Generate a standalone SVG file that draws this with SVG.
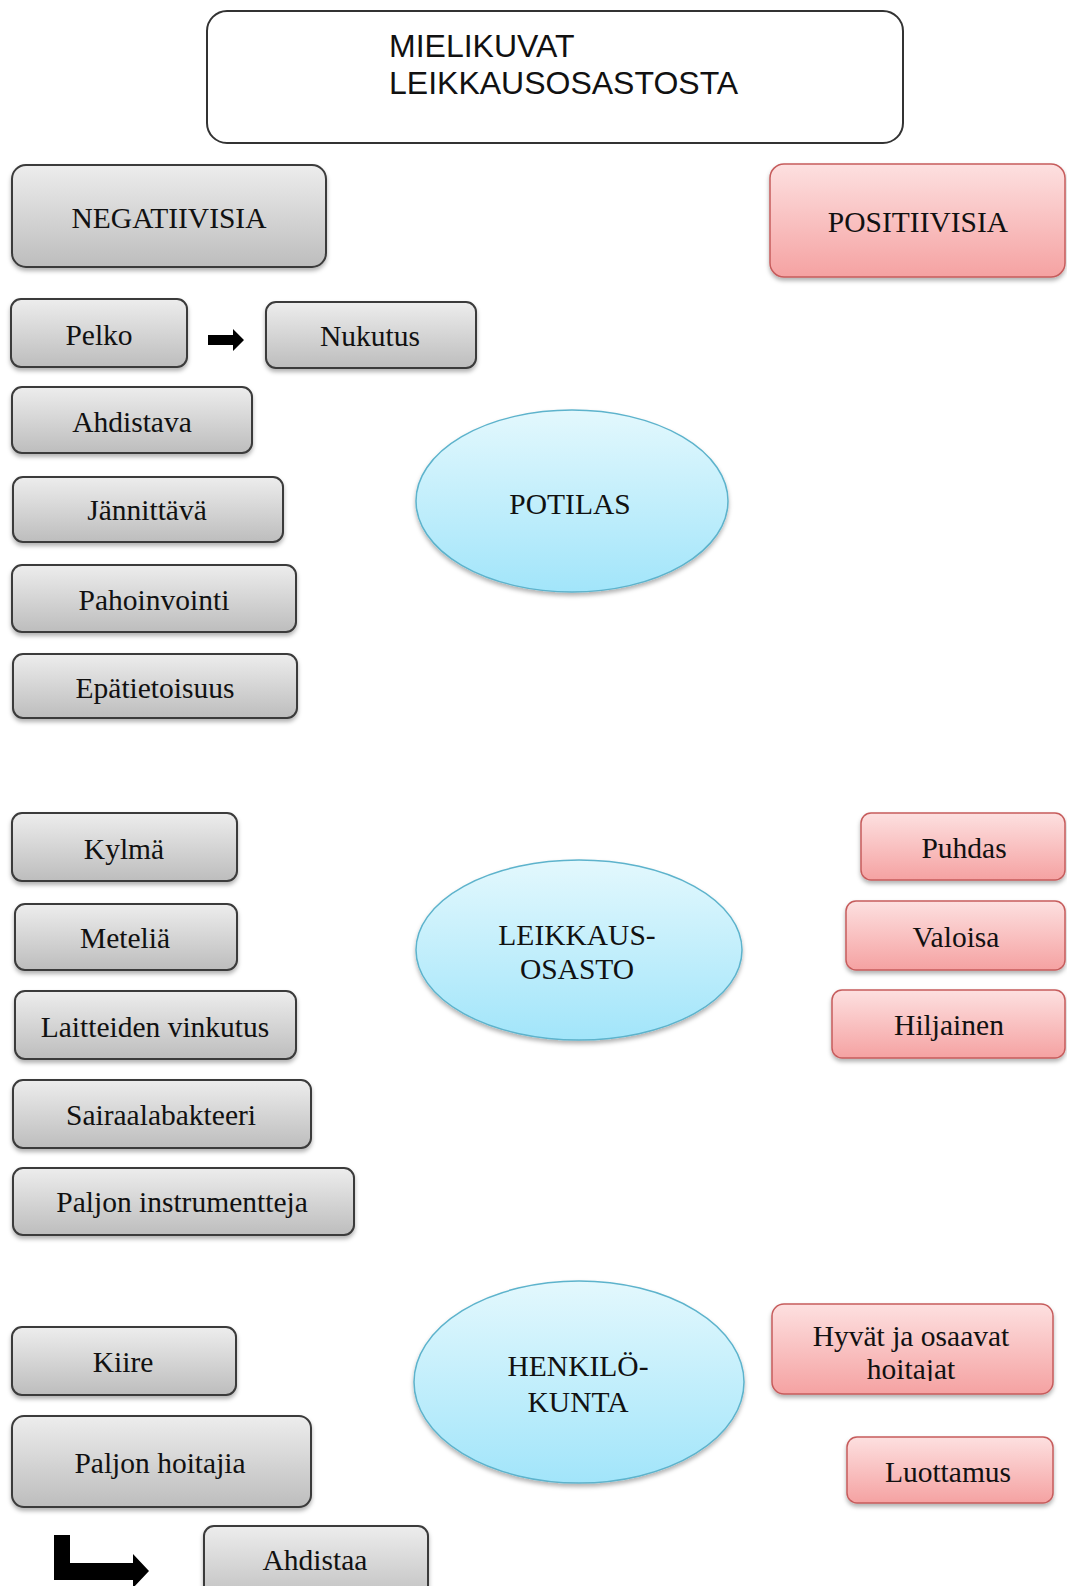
<svg xmlns="http://www.w3.org/2000/svg" width="1067" height="1586" viewBox="0 0 1067 1586">
<defs>
<linearGradient id="gGray" x1="0" y1="0" x2="0" y2="1">
<stop offset="0" stop-color="#ededed"/>
<stop offset="1" stop-color="#bdbdbd"/>
</linearGradient>
<linearGradient id="gPink" x1="0" y1="0" x2="0" y2="1">
<stop offset="0" stop-color="#fde0e0"/>
<stop offset="1" stop-color="#f5a2a2"/>
</linearGradient>
<linearGradient id="gBlue" x1="0" y1="0" x2="0" y2="1">
<stop offset="0" stop-color="#e3f8fd"/>
<stop offset="1" stop-color="#a2e5fa"/>
</linearGradient>
<filter id="sh" x="-10%" y="-10%" width="120%" height="130%">
<feDropShadow dx="0" dy="3" stdDeviation="2" flood-color="#000" flood-opacity="0.3"/>
</filter>
<clipPath id="clipHyv"><rect x="772" y="1304" width="281" height="77"/></clipPath>
</defs>
<style>
.gray{fill:url(#gGray);stroke:#3a3a3a;stroke-width:2;filter:url(#sh)}
.pink{fill:url(#gPink);stroke:#c65c5c;stroke-width:1.5;filter:url(#sh)}
.blue{fill:url(#gBlue);stroke:#5db3cc;stroke-width:1.5;filter:url(#sh)}
.t{font-family:"Liberation Serif","Times New Roman",serif;font-size:29.5px;fill:#111;text-anchor:middle}
.h{font-family:"Liberation Sans",Arial,sans-serif;font-size:32px;fill:#111}
.arr{fill:#000}
</style>
<rect width="1067" height="1586" fill="#fff"/>

<g id="title">
<rect x="207" y="11" width="696" height="132" rx="20" fill="#fff" stroke="#333" stroke-width="2"/>
<text class="h" x="389" y="57">MIELIKUVAT</text>
<text class="h" x="389" y="94">LEIKKAUSOSASTOSTA</text>
</g>

<g id="negatiivisia"><rect class="gray" x="12" y="165" width="314" height="102" rx="14"/><text class="t" x="169" y="228">NEGATIIVISIA</text></g>
<g id="positiivisia"><rect class="pink" x="770" y="164" width="295" height="113" rx="14"/><text class="t" x="918" y="232">POSITIIVISIA</text></g>

<g id="pelko"><rect class="gray" x="11" y="299" width="176" height="68" rx="10"/><text class="t" x="99" y="345">Pelko</text></g>
<g id="nukutus"><rect class="gray" x="266" y="302" width="210" height="66" rx="10"/><text class="t" x="370" y="346">Nukutus</text></g>
<g id="ahdistava"><rect class="gray" x="12" y="387" width="240" height="66" rx="10"/><text class="t" x="132" y="432">Ahdistava</text></g>
<g id="jannittava"><rect class="gray" x="13" y="477" width="270" height="65" rx="10"/><text class="t" x="147" y="520">Jännittävä</text></g>
<g id="pahoinvointi"><rect class="gray" x="12" y="565" width="284" height="67" rx="10"/><text class="t" x="154" y="610">Pahoinvointi</text></g>
<g id="epatietoisuus"><rect class="gray" x="13" y="654" width="284" height="64" rx="10"/><text class="t" x="155" y="698">Epätietoisuus</text></g>

<g id="potilas"><ellipse class="blue" cx="572" cy="501" rx="156" ry="91"/><text class="t" x="570" y="514">POTILAS</text></g>

<g id="kylma"><rect class="gray" x="12" y="813" width="225" height="68" rx="10"/><text class="t" x="124" y="859">Kylmä</text></g>
<g id="metelia"><rect class="gray" x="15" y="904" width="222" height="66" rx="10"/><text class="t" x="125" y="948">Meteliä</text></g>
<g id="laitteiden"><rect class="gray" x="15" y="991" width="281" height="68" rx="10"/><text class="t" x="155" y="1037">Laitteiden vinkutus</text></g>
<g id="sairaalabakteeri"><rect class="gray" x="13" y="1080" width="298" height="68" rx="10"/><text class="t" x="161" y="1125">Sairaalabakteeri</text></g>
<g id="instrumentteja"><rect class="gray" x="13" y="1168" width="341" height="67" rx="10"/><text class="t" x="182" y="1212">Paljon instrumentteja</text></g>

<g id="leikkausosasto"><ellipse class="blue" cx="579" cy="950" rx="163" ry="90"/><text class="t" x="577" y="945">LEIKKAUS-</text><text class="t" x="577" y="979">OSASTO</text></g>

<g id="puhdas"><rect class="pink" x="861" y="813" width="204" height="67" rx="10"/><text class="t" x="964" y="858">Puhdas</text></g>
<g id="valoisa"><rect class="pink" x="846" y="901" width="219" height="69" rx="10"/><text class="t" x="956" y="947">Valoisa</text></g>
<g id="hiljainen"><rect class="pink" x="832" y="990" width="233" height="68" rx="10"/><text class="t" x="949" y="1035">Hiljainen</text></g>

<g id="kiire"><rect class="gray" x="12" y="1327" width="224" height="68" rx="10"/><text class="t" x="123" y="1372">Kiire</text></g>
<g id="hoitajia"><rect class="gray" x="12" y="1416" width="299" height="91" rx="12"/><text class="t" x="160" y="1473">Paljon hoitajia</text></g>
<g id="ahdistaa"><rect class="gray" x="204" y="1526" width="224" height="80" rx="10"/><text class="t" x="315" y="1570">Ahdistaa</text></g>

<g id="henkilokunta"><ellipse class="blue" cx="579" cy="1382" rx="165" ry="101"/><text class="t" x="578" y="1376">HENKILÖ-</text><text class="t" x="578" y="1412">KUNTA</text></g>

<g id="hyvat"><rect class="pink" x="772" y="1304" width="281" height="90" rx="12"/><text class="t" x="911" y="1346">Hyvät ja osaavat</text><text class="t" x="911" y="1379" clip-path="url(#clipHyv)">hoitajat</text></g>
<g id="luottamus"><rect class="pink" x="847" y="1437" width="206" height="66" rx="10"/><text class="t" x="948" y="1482">Luottamus</text></g>

<g id="connectors">
<polygon class="arr" points="208,335 233,335 233,329 244,340 233,351 233,345 208,345"/>
<polygon class="arr" points="54,1535 70,1535 70,1563 133,1563 133,1554 149,1571 133,1588 133,1580 54,1580"/>
</g>
</svg>
